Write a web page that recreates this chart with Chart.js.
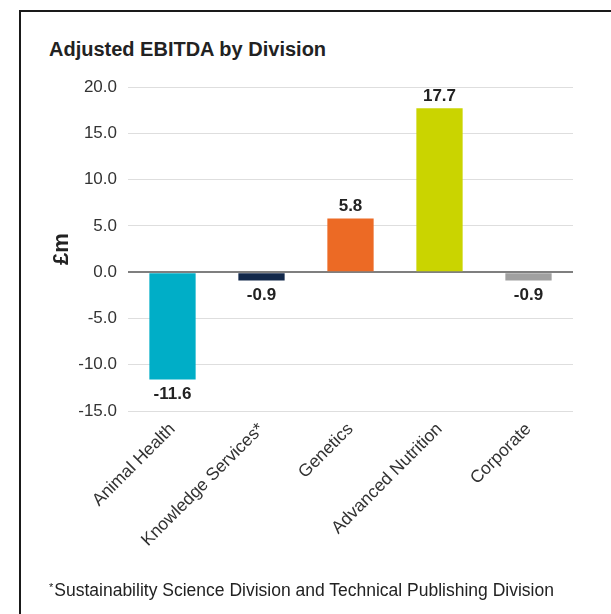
<!DOCTYPE html>
<html>
<head>
<meta charset="utf-8">
<script src="https://cdn.jsdelivr.net/npm/chart.js@4/dist/chart.umd.min.js"></script>
<style>
    html, body { margin: 0; padding: 0; background: #fff; overflow: hidden; }
    body { width: 611px; height: 614px; position: relative; font-family: "Liberation Sans", Arial, sans-serif; }
    .frame { position: absolute; left: 19px; top: 10px; width: 700px; height: 700px;
             border-left: 2px solid #1a1a1a; border-top: 2px solid #1a1a1a; }
    .title { position: absolute; left: 49px; top: 37px; font-size: 20px; font-weight: bold; color: #222; line-height: 24px; }
    .note { position: absolute; left: 49px; top: 577px; font-size: 17.5px; color: #222; line-height: 20px; }
    .note sup { font-size: 11px; vertical-align: 5px; margin-right: 1px; }
    #wrap { position: absolute; left: 0; top: 0; width: 611px; height: 614px; }
</style>
</head>
<body>
<div class="frame"></div>
<div class="title">Adjusted EBITDA by Division</div>
<div id="wrap"><canvas id="ebitdaChart"></canvas></div>
<div class="note"><sup>*</sup>Sustainability Science Division and Technical Publishing Division</div>

<script>
const divisions = ['Animal Health', 'Knowledge Services*', 'Genetics', 'Advanced Nutrition', 'Corporate'];
const ebitda = [-11.6, -0.9, 5.8, 17.7, -0.9];
const barColors = ['#00aec7', '#13294b', '#ec6a25', '#cad400', '#a0a0a0'];
const yTicks = [-15, -10, -5, 0, 5, 10, 15, 20];

const FONT = '"Liberation Sans", Arial, sans-serif';

// value labels above positive bars, below negative ones
const valueLabels = {
    id: 'valueLabels',
    afterDatasetsDraw(chart) {
        const { ctx } = chart;
        const meta = chart.getDatasetMeta(0);
        ctx.save();
        ctx.font = 'bold 17px ' + FONT;
        ctx.fillStyle = '#222';
        ctx.textAlign = 'center';
        meta.data.forEach((bar, i) => {
            const v = ebitda[i];
            if (v >= 0) {
                ctx.textBaseline = 'alphabetic';
                ctx.fillText(v.toFixed(1), bar.x, bar.y - 7);
            } else {
                ctx.textBaseline = 'top';
                ctx.fillText(v.toFixed(1), bar.x, bar.y + 6);
            }
        });
        ctx.restore();
    }
};

new Chart(document.getElementById('ebitdaChart'), {
    type: 'bar',
    data: {
        labels: divisions,
        datasets: [{
            data: ebitda,
            backgroundColor: barColors,
            borderWidth: 0,
            barPercentage: 0.52,
            categoryPercentage: 1
        }]
    },
    options: {
        responsive: true,
        maintainAspectRatio: false,
        animation: false,
        layout: { padding: { top: 87, left: 49, right: 38, bottom: 43 } },
        plugins: {
            legend: { display: false },
            tooltip: { enabled: false }
        },
        scales: {
            x: {
                grid: { display: false, drawTicks: false },
                border: { display: false },
                ticks: {
                    color: '#333',
                    font: { family: FONT, size: 17.5 },
                    maxRotation: 45,
                    minRotation: 45,
                    padding: 8
                },
                afterFit: s => { s.height = 160; }
            },
            y: {
                min: -15,
                max: 20,
                afterBuildTicks: s => { s.ticks = yTicks.map(v => ({ value: v })); },
                grid: {
                    drawTicks: false,
                    color: ctx => ctx.tick && ctx.tick.value === 0 ? '#7f7f7f' : '#dedede',
                    lineWidth: ctx => ctx.tick && ctx.tick.value === 0 ? 2 : 1
                },
                border: { display: false },
                ticks: {
                    color: '#333',
                    font: { family: FONT, size: 17 },
                    padding: 11,
                    callback: v => v.toFixed(1)
                },
                title: {
                    display: true,
                    text: '£m',
                    color: '#222',
                    font: { family: FONT, size: 22, weight: 'bold' },
                    padding: { top: 0, bottom: 0 }
                },
                afterFit: s => { s.width = 79; }
            }
        }
    },
    plugins: [valueLabels]
});
</script>
</body>
</html>
